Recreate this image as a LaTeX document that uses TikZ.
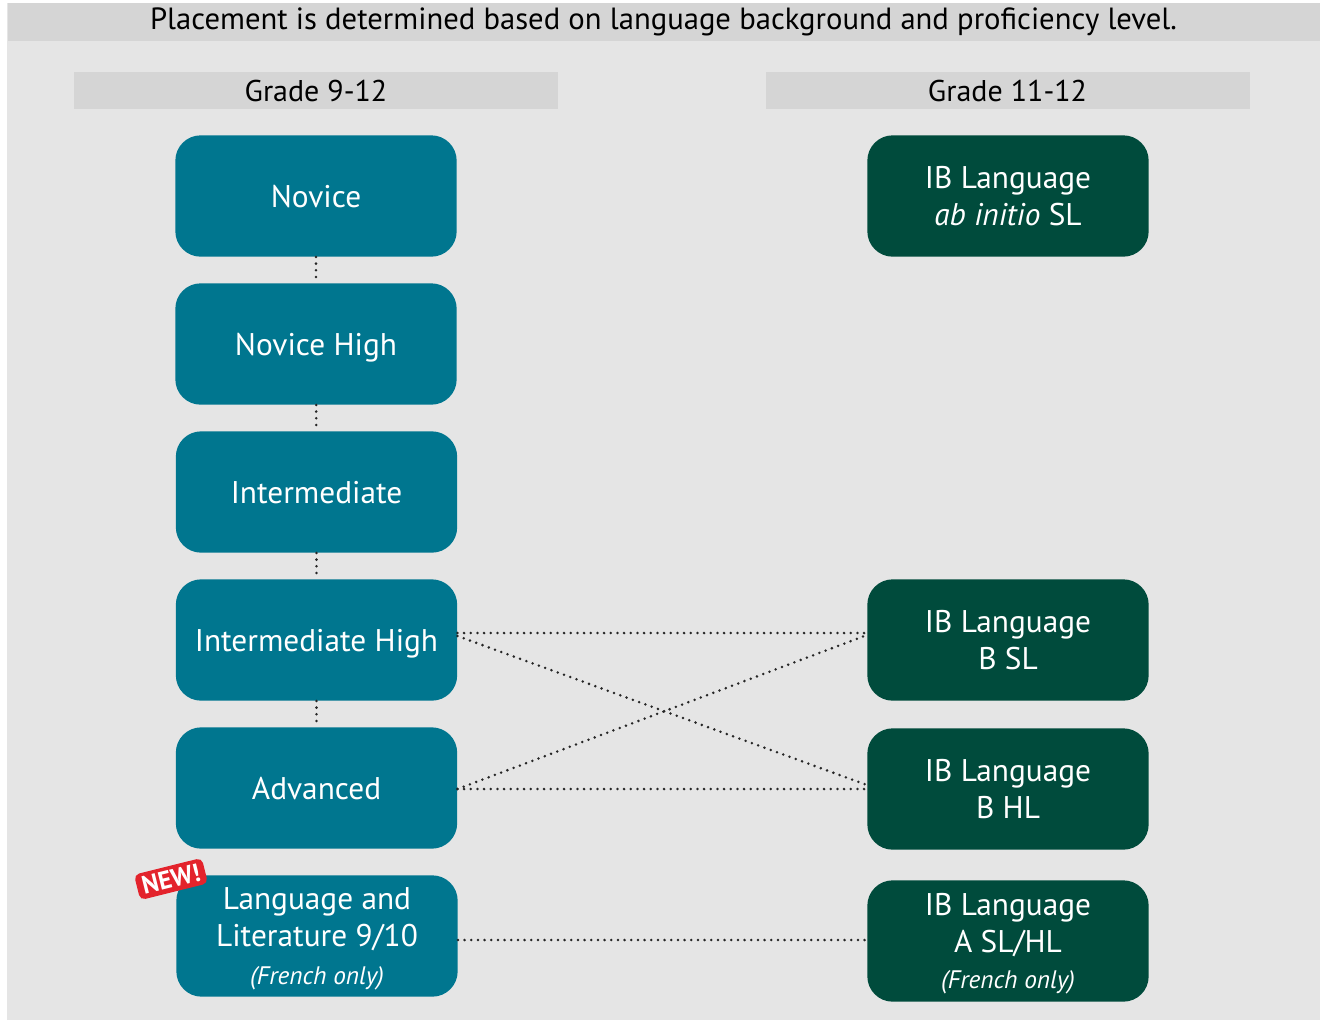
\documentclass[tikz,border=0pt]{standalone}
\usepackage{fontspec}
\setmainfont{PT Sans}
\usetikzlibrary{positioning}
\definecolor{bgc}{HTML}{E5E5E5}
\definecolor{hdr}{HTML}{D5D5D5}
\definecolor{teal}{HTML}{00768F}
\definecolor{dgreen}{HTML}{004B3C}
\definecolor{newred}{HTML}{E3232C}
\tikzset{
  lvl/.style={rounded corners=19pt, minimum width=211pt, minimum height=91pt, text=white, align=center, font=\fontsize{23.5}{28}\selectfont, inner sep=0pt, text depth=0pt},
  lbox/.style={lvl, fill=teal},
  rbox/.style={lvl, fill=dgreen},
  hbar/.style={fill=hdr, minimum width=363pt, minimum height=28pt, inner sep=0pt, font=\fontsize{22.5}{25}\selectfont},
  link/.style={line width=2.1pt, dash pattern=on 0pt off 5pt, line cap=round, black!85}
}
\begin{document}
\begin{tikzpicture}[x=0.75pt,y=-0.75pt]
\useasboundingbox (0,0) rectangle (1323,1022);
\fill[white] (0,0) rectangle (1323,1022);
\fill[bgc] (7,3) rectangle (1320,1020);
\node[fill=hdr, minimum width=984pt, minimum height=28pt, inner sep=0pt, font=\fontsize{23}{25}\selectfont] (title) at (663.5,22) {Placement is determined based on language background and proficiency level.};
\node[hbar] (g1) at (316,90.5) {Grade 9-12};
\node[hbar] (g2) at (1007.5,90.5) {Grade 11-12};

\node[lbox] (nov) at (316,196) {Novice};
\node[lbox] (novh) at (316,344) {Novice High};
\node[lbox] (int) at (316.5,492) {Intermediate};
\node[lbox] (inth) at (316.5,640) {Intermediate High};
\node[lbox] (adv) at (316.5,788) {Advanced};
\node[lbox] (ll) at (317,936) {Language and\\Literature 9/10\\[0pt]{\fontsize{19}{22}\selectfont\itshape (French only)}};

\node[rbox] (abi) at (1008,196) {IB Language\\\textit{ab initio} SL};
\node[rbox] (bsl) at (1008,640) {IB Language\\B SL};
\node[rbox] (bhl) at (1008,789) {IB Language\\B HL};
\node[rbox] (asl) at (1008,941) {IB Language\\A SL/HL\\[-1pt]{\fontsize{19}{22}\selectfont\itshape (French only)}};

\draw[link] (nov) -- (novh);
\draw[link] (novh) -- (int);
\draw[link] (int) -- (inth);
\draw[link] (inth) -- (adv);

\draw[link] (inth.east |- 0,633) -- (bsl.west |- 0,633);
\draw[link] (inth.east |- 0,636) -- (bhl.west |- 0,785);
\draw[link] (adv.east |- 0,789) -- (bsl.west |- 0,635);
\draw[link] (adv.east |- 0,789) -- (bhl.west |- 0,789);
\draw[link] (ll.east |- 0,940) -- (asl.west |- 0,940);

\node[fill=newred, rounded corners=4pt, rotate=14, text=white, font=\fontsize{19}{20}\selectfont\bfseries, inner xsep=4pt, inner ysep=3pt] (new) at (171,879) {NEW!};
\end{tikzpicture}
\end{document}
